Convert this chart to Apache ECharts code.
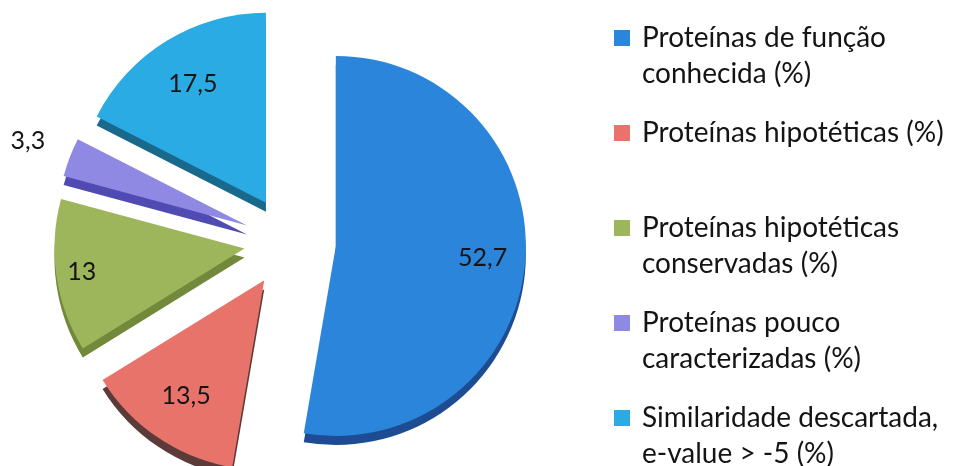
<!DOCTYPE html>
<html>
<head>
<meta charset="utf-8">
<script src="https://cdn.jsdelivr.net/npm/echarts@6/dist/echarts.min.js"></script>
<style>
  html, body { margin: 0; padding: 0; background: #ffffff; }
  #chart { width: 953px; height: 466px; }
</style>
</head>
<body>
<div id="chart"></div>
<script>
// Categories and their shares (%)
const categories = [
  'Proteínas de função\nconhecida (%)',
  'Proteínas hipotéticas (%)',
  'Proteínas hipotéticas\nconservadas (%)',
  'Proteínas pouco\ncaracterizadas (%)',
  'Similaridade descartada,\ne-value > -5 (%)'
];
const values = [52.7, 13.5, 13, 3.3, 17.5];

// Styling
const faceColors = ['#2B86DB', '#E8736B', '#9DB55B', '#8F89E3', '#2AABE4'];
const sideColors = ['#1D4C92', '#5C3A38', '#72883A', '#504BB2', '#19698C'];
// distance of each value label from its slice's tip, as a fraction of the radius
const labelRadiusRatio = [0.76, 0.72, 0.85, 1.22, 0.72];

const R = 190;          // pie radius (px)
const CX = 290, CY = 242;
const DEPTH = 9;        // thickness of the slice walls
const EXPLODE = 46;     // how far every slice is pulled out
const FONT = 'Lato';
const LINE = 36;        // legend line height
const LEGEND_Y0 = 38, LEGEND_STEP = 95;

const fmtValue = v => String(v).replace('.', ',');

function pieBase(extra) {
  return Object.assign({
    type: 'pie',
    radius: [0, R],
    center: [CX, CY],
    startAngle: 90,
    clockwise: true,
    selectedMode: 'multiple',
    selectedOffset: EXPLODE,
    silent: true,
    animation: false,
    avoidLabelOverlap: false,
    labelLine: { show: false },
    emphasis: { disabled: true },
    label: { show: false }
  }, extra);
}

// top faces of the slices
const faceSeries = pieBase({
  name: 'face',
  z: 3,
  data: categories.map((n, i) => ({
    name: n, value: values[i], selected: true,
    itemStyle: { color: faceColors[i], borderWidth: 0 }
  }))
});

// darker copy slightly lower: the visible side walls
const sideSeries = pieBase({
  name: 'side',
  z: 2,
  center: [CX, CY + DEPTH],
  data: categories.map((n, i) => ({
    name: n, value: values[i], selected: true,
    itemStyle: { color: sideColors[i], borderWidth: 0 }
  }))
});

// invisible rings that only carry the value labels
const labelSeries = categories.map((_, k) => {
  const k2 = 2 * labelRadiusRatio[k] - 1;
  const r0 = Math.min(R, k2 * R), r1 = Math.max(R, k2 * R);
  return pieBase({
    name: 'label' + k,
    z: 4,
    radius: [r0, r1],
    data: categories.map((n, i) => ({
      name: n, value: values[i], selected: true,
      itemStyle: { color: 'rgba(0,0,0,0)', borderWidth: 0 },
      label: {
        show: i === k,
        position: 'inside',
        formatter: p => fmtValue(p.value),
        color: '#151515',
        fontFamily: FONT,
        fontSize: 25,
        rotate: 0
      }
    }))
  });
});

// one legend block per category, icon aligned with the first text line
const legends = categories.map((name, i) => {
  const n = name.split('\n').length;
  return {
    orient: 'vertical',
    left: 614,
    top: LEGEND_Y0 + i * LEGEND_STEP - ((2 * n - 1) * LINE) / 2,
    padding: 0,
    itemWidth: 16,
    itemHeight: 16,
    itemGap: 0,
    icon: 'rect',
    selectedMode: false,
    itemStyle: { borderWidth: 0 },
    data: [name],
    formatter: t => '\n'.repeat(n - 1) + t,
    textStyle: {
      fontFamily: FONT,
      fontSize: 28,
      lineHeight: LINE,
      color: '#141414',
      padding: [0, 0, 0, 7]
    }
  };
});

const chart = echarts.init(document.getElementById('chart'), null, { renderer: 'canvas' });
chart.setOption({
  backgroundColor: '#ffffff',
  animation: false,
  legend: legends,
  series: [faceSeries, sideSeries].concat(labelSeries)
});
</script>
</body>
</html>
